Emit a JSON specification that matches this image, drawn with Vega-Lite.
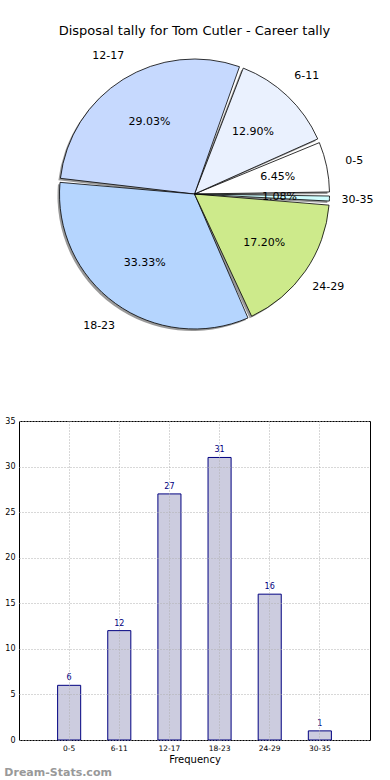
{
  "$schema": "https://vega.github.io/schema/vega-lite/v6.json",
  "padding": {"top": 25, "left": 4, "right": 0, "bottom": 0},
  "background": "white",
  "config": {"font": "DejaVu Sans", "view": {"stroke": null}},
  "title": {"text": "Dream-Stats.com", "orient": "bottom", "anchor": "start", "frame": "bounds", "fontSize": 11, "fontWeight": "bold", "color": "#999999", "offset": 2},
  "data": {"values": [
    {"idx": 1, "label": "0-5", "count": 6, "pct": "6.45%"},
    {"idx": 2, "label": "6-11", "count": 12, "pct": "12.90%"},
    {"idx": 3, "label": "12-17", "count": 27, "pct": "29.03%"},
    {"idx": 4, "label": "18-23", "count": 31, "pct": "33.33%"},
    {"idx": 5, "label": "24-29", "count": 16, "pct": "17.20%"},
    {"idx": 6, "label": "30-35", "count": 1, "pct": "1.08%"}
  ]},
  "spacing": 73,
  "vconcat": [
    {
      "width": 351,
      "height": 298,
      "title": {"text": "Disposal tally for Tom Cutler - Career tally", "fontSize": 13, "fontWeight": "normal", "color": "#000000", "offset": 7},
      "encoding": {
        "theta": {"field": "count", "type": "quantitative", "stack": true, "scale": {"range": [1.5707963, -4.712389]}},
        "order": {"field": "idx", "type": "quantitative"}
      },
      "layer": [
        {"mark": {"type": "arc", "outerRadius": 135, "padAngle": 0.03, "fill": "#808080", "opacity": 0.8, "xOffset": -2, "yOffset": 2}},
        {"mark": {"type": "arc", "outerRadius": 135, "padAngle": 0.03, "stroke": "#000000", "strokeWidth": 0.8},
         "encoding": {"color": {"field": "label", "type": "nominal", "sort": null, "legend": null,
           "scale": {"domain": ["0-5", "6-11", "12-17", "18-23", "24-29", "30-35"], "range": ["#ffffff", "#eaf1fe", "#c6d9fe", "#b5d5fe", "#cdea8b", "#d0ffff"]}}}},
        {"mark": {"type": "text", "radius": 85, "fontSize": 11, "color": "#000000"}, "encoding": {"text": {"field": "pct"}}},
        {"mark": {"type": "text", "radius": 163, "fontSize": 11, "color": "#000000"}, "encoding": {"text": {"field": "label"}}}
      ]
    },
    {
      "width": 351,
      "height": 319,
      "view": {"stroke": "#000000", "strokeWidth": 1},
      "encoding": {
        "x": {"field": "label", "type": "nominal", "sort": null,
          "scale": {"paddingInner": 0.54, "paddingOuter": 0.77},
          "axis": {"title": "Frequency", "labelAngle": 0, "labelFontSize": 7.5, "titleFontSize": 10, "titleFontWeight": "normal", "ticks": false, "labelPadding": 4, "titlePadding": 3, "domain": false, "grid": true, "bandPosition": 0.5, "gridColor": "#b0b0b0", "gridDash": [1, 2], "labelColor": "#000000", "titleColor": "#000000", "zindex": 1}},
        "y": {"field": "count", "type": "quantitative", "scale": {"domain": [0, 35]},
          "axis": {"title": null, "values": [0, 5, 10, 15, 20, 25, 30, 35], "labelFontSize": 8, "ticks": false, "domain": false, "grid": true, "gridDash": [1, 2], "gridColor": "#b0b0b0", "labelPadding": 4, "labelColor": "#000000", "zindex": 1}}
      },
      "layer": [
        {"mark": {"type": "bar", "fill": "#ccccdf", "stroke": "#000080", "strokeWidth": 1}},
        {"mark": {"type": "text", "color": "#000080", "fontSize": 8, "baseline": "bottom", "dy": -3}, "encoding": {"text": {"field": "count"}}}
      ]
    }
  ]
}
